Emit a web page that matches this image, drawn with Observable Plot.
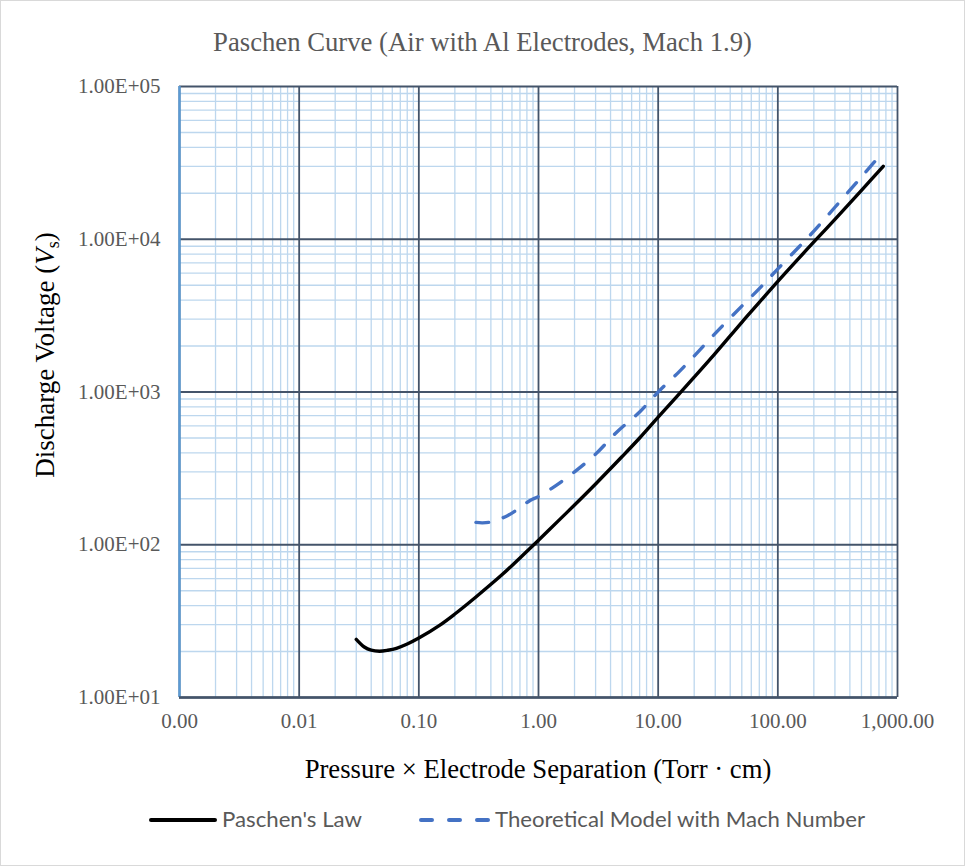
<!DOCTYPE html>
<html><head><meta charset="utf-8">
<script src="https://cdn.jsdelivr.net/npm/d3@7"></script>
<script src="https://cdn.jsdelivr.net/npm/@observablehq/plot@0.6"></script>
<style>
body{margin:0;background:#fff;}
#chart{position:relative;width:965px;height:866px;overflow:hidden;font-family:"Liberation Serif","Times New Roman",serif;background:#fff;}
#frame{position:absolute;left:0;top:0;width:965px;height:866px;box-sizing:border-box;border:1px solid #d9d9d9;pointer-events:none;}
#title{position:absolute;left:0;top:26px;width:965px;text-align:center;font-size:26.7px;line-height:32px;color:#595959;}
#plot{position:absolute;left:0;top:70px;}
#legend{position:absolute;left:0;top:800px;}
</style></head><body>
<div id="chart"><div id="frame"></div><div id="title">Paschen Curve (Air with Al Electrodes, Mach 1.9)</div><div id="plot"></div><div id="legend"></div></div>
<script>
// ---- data ----
const xTicks = [0.001, 0.01, 0.1, 1, 10, 100, 1000];
const xTickLabels = ["0.00", "0.01", "0.10", "1.00", "10.00", "100.00", "1,000.00"];
const yTicks = [10, 100, 1000, 10000, 100000];
const yTickLabels = ["1.00E+01", "1.00E+02", "1.00E+03", "1.00E+04", "1.00E+05"];

const paschenPd = [0.03, 0.035, 0.04, 0.047, 0.055, 0.065, 0.08, 0.1, 0.15, 0.2, 0.3, 0.5, 0.7, 1, 1.5, 2, 3, 5, 7, 10, 20, 30, 50, 70, 100, 200, 300, 500, 760];
const paschenV  = [24, 21.4, 20.4, 20.1, 20.4, 21.0, 22.4, 24.5, 29.8, 35.2, 45.5, 64, 82, 107, 146, 182, 250, 378, 500, 684, 1250, 1790, 2860, 3860, 5300, 9600, 13500, 20900, 30000];

const machPd = [0.3, 0.34, 0.4, 0.55, 0.7, 0.85, 1, 1.3, 2, 3, 4.5, 7, 10, 15, 20, 30, 50, 70, 100, 150, 200, 300, 500, 750];
const machV  = [140, 139, 141, 155, 175, 195, 207, 235, 300, 392, 545, 740, 1000, 1360, 1720, 2420, 3650, 4750, 6400, 8900, 11300, 16200, 25600, 37000];

const seriesNames = ["Paschen's Law", "Theoretical Model with Mach Number"];

// ---- tables ----
const paschen = paschenPd.map((pd, i) => ({pd, v: paschenV[i]}));
const mach = machPd.map((pd, i) => ({pd, v: machV[i]}));
const minorX = [];
xTicks.slice(0, -1).forEach(d => { for (let k = 2; k <= 9; k++) minorX.push(d * k); });
const minorY = [];
yTicks.slice(0, -1).forEach(d => { for (let k = 2; k <= 9; k++) minorY.push(d * k); });

const major = "#44546a", minor = "#bdd7ee", blue = "#4472c4";

const plot = Plot.plot({
  width: 965, height: 725,
  marginLeft: 179, marginRight: 68, marginTop: 16, marginBottom: 98,
  style: {fontFamily: "'Liberation Serif','Times New Roman',serif", fontSize: "21px", color: "#595959", background: "transparent", overflow: "visible"},
  x: {type: "log", domain: [0.001, 1000]},
  y: {type: "log", domain: [10, 100000]},
  marks: [
    Plot.ruleX(minorX, {stroke: minor, strokeWidth: 1.3}),
    Plot.ruleY(minorY, {stroke: minor, strokeWidth: 1.3}),
    Plot.ruleX(xTicks, {stroke: major, strokeWidth: 1.8}),
    Plot.ruleY(yTicks, {stroke: major, strokeWidth: 1.8}),
    Plot.ruleX([0.001], {stroke: "#5b9bd5", strokeWidth: 2.4}),
    Plot.ruleY([10], {stroke: major, strokeWidth: 2.6}),
    Plot.axisX(xTicks, {tickSize: 0, tickPadding: 16, label: null, fill: "#595959", fontSize: 21,
      tickFormat: d => xTickLabels[xTicks.indexOf(d)]}),
    Plot.axisY(yTicks, {tickSize: 0, tickPadding: 19, label: null, fill: "#595959", fontSize: 21,
      tickFormat: d => yTickLabels[yTicks.indexOf(d)]}),
    Plot.line(paschen, {x: "pd", y: "v", stroke: "black", strokeWidth: 3.4, curve: "catmull-rom"}),
    Plot.line(mach, {x: "pd", y: "v", stroke: blue, strokeWidth: 3.4, strokeDasharray: "13,15", strokeLinecap: "round", curve: "catmull-rom"})
  ]
});

const svg = d3.select(plot);
// x axis title
svg.append("text")
  .attr("x", (179 + 897) / 2).attr("y", 708)
  .attr("text-anchor", "middle").attr("fill", "#000")
  .style("font-size", "26.7px")
  .text("Pressure × Electrode Separation (Torr · cm)");
// y axis title
const yt = svg.append("text")
  .attr("transform", "translate(54,285) rotate(-90)")
  .attr("text-anchor", "middle").attr("fill", "#000")
  .style("font-size", "27px");
yt.append("tspan").text("Discharge Voltage (");
yt.append("tspan").style("font-style", "italic").text("V");
yt.append("tspan").attr("dy", 5).style("font-size", "18px").text("s");
yt.append("tspan").attr("dy", -5).text(")");

document.getElementById("plot").appendChild(plot);

// ---- legend ----
const lg = d3.select("#legend").append("svg").attr("width", 965).attr("height", 40);
lg.append("line").attr("x1", 151).attr("x2", 215).attr("y1", 20).attr("y2", 20)
  .attr("stroke", "black").attr("stroke-width", 4).attr("stroke-linecap", "round");
lg.append("text").attr("x", 222).attr("y", 27).attr("fill", "#595959")
  .style("font-family", "Lato, 'Open Sans', sans-serif").style("font-size", "21px")
  .attr("textLength", 140).attr("lengthAdjust", "spacingAndGlyphs").text(seriesNames[0]);
lg.append("line").attr("x1", 421).attr("x2", 490).attr("y1", 20).attr("y2", 20)
  .attr("stroke", blue).attr("stroke-width", 4).attr("stroke-linecap", "round").attr("stroke-dasharray", "11,17");
lg.append("text").attr("x", 495).attr("y", 27).attr("fill", "#595959")
  .style("font-family", "Lato, 'Open Sans', sans-serif").style("font-size", "21px")
  .attr("textLength", 370).attr("lengthAdjust", "spacingAndGlyphs").text(seriesNames[1]);
</script>
</body></html>
